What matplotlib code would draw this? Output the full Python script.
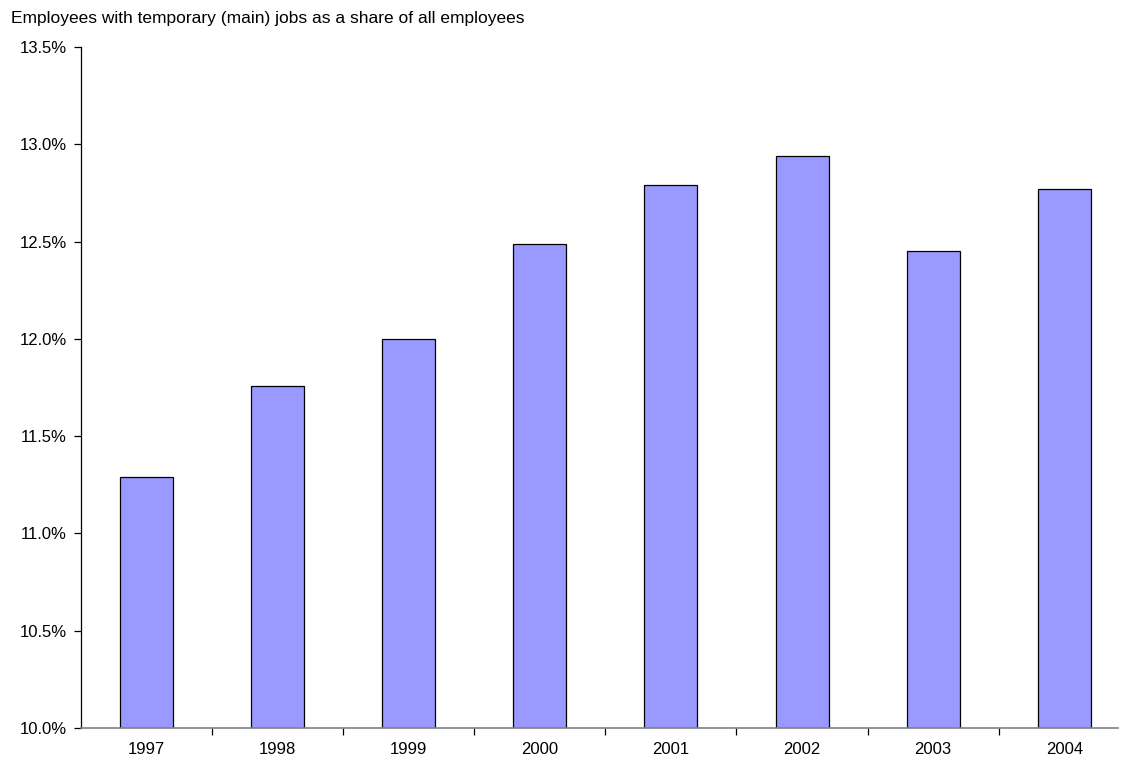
import matplotlib
matplotlib.use("Agg")
import matplotlib.pyplot as plt
from matplotlib.ticker import FuncFormatter, MultipleLocator

years = ["1997", "1998", "1999", "2000", "2001", "2002", "2003", "2004"]
temp_share = [11.29, 11.76, 12.00, 12.49, 12.79, 12.94, 12.45, 12.77]

plt.rcParams["font.family"] = ["Liberation Sans", "DejaVu Sans"]

W, H = 1125, 759
fig = plt.figure(figsize=(W / 100, H / 100), dpi=100)
ax = fig.add_axes([81 / W, 31 / H, (1118 - 81) / W, (728 - 47) / H])

x = list(range(len(years)))
ax.bar(x, temp_share, width=0.405, bottom=0, color="#9999FF",
       edgecolor="black", linewidth=0.9, zorder=2)

ax.set_ylim(10.0, 13.5)
ax.set_xlim(-0.5, 7.41)
ax.yaxis.set_major_locator(MultipleLocator(0.5))
ax.yaxis.set_major_formatter(FuncFormatter(lambda v, p: f"{v:.1f}%"))

ax.set_xticks(x)
ax.set_xticklabels(years)
ax.set_xticks([i + 0.5 for i in range(len(years) - 1)], minor=True)
ax.tick_params(axis="x", which="major", length=0, pad=10, labelsize=12)
ax.tick_params(axis="x", which="minor", length=5, width=0.9, color="black", direction="out")
ax.tick_params(axis="y", length=5, width=0.9, direction="out", pad=5, labelsize=12)

for s in ("top", "right"):
    ax.spines[s].set_visible(False)
ax.spines["left"].set_color("black")
ax.spines["left"].set_linewidth(0.9)
ax.spines["bottom"].set_color("#808080")
ax.spines["bottom"].set_linewidth(1.2)

fig.text(11 / W, 1 - 18 / H, "Employees with temporary (main) jobs as a share of all employees",
         ha="left", va="center", fontsize=12.5)

fig.savefig("out.png", dpi=100)
